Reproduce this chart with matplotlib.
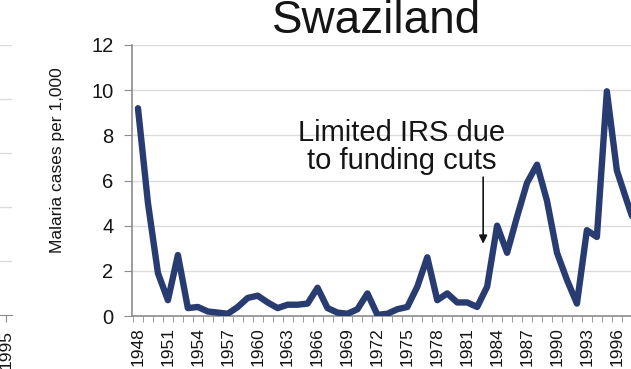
import matplotlib
matplotlib.use('Agg')
import matplotlib.pyplot as plt
import matplotlib.ticker as mticker

plt.rcParams['font.family'] = ['Liberation Sans', 'DejaVu Sans']

# Data
years = list(range(1948, 1999))
cases = [9.2, 5.0, 1.9, 0.7, 2.7, 0.35, 0.4, 0.2, 0.15, 0.1,
         0.4, 0.8, 0.9, 0.6, 0.35, 0.5, 0.5, 0.55, 1.25, 0.35,
         0.15, 0.1, 0.3, 1.0, 0.05, 0.1, 0.3, 0.4, 1.3, 2.6,
         0.7, 1.0, 0.6, 0.6, 0.4, 1.3, 4.0, 2.8, 4.4, 5.9,
         6.7, 5.1, 2.8, 1.6, 0.55, 3.8, 3.5, 9.95, 6.45, 5.1, 3.8]
label_years = list(range(1948, 1999, 3))
y_ticks = [0, 2, 4, 6, 8, 10, 12]

W, H = 631, 369
fig = plt.figure(figsize=(W / 100, H / 100), dpi=100)
fig.patch.set_facecolor('white')

GRID = '#dcdcdc'
AXIS = '#8c8c8c'
LINE = '#283c72'
TXT = '#151515'

# --- neighbouring chart, only its right edge is visible ---
axl = fig.add_axes([-120 / W, (H - 315) / H, 132 / W, 270 / H])
axl.set_xlim(0, 1)
axl.set_ylim(0, 5)
axl.set_yticks([1, 2, 3, 4, 5])
axl.yaxis.grid(True, color=GRID, lw=1)
axl.tick_params(axis='y', length=0, labelleft=False)
axl.set_xticks([126 / 132])
axl.set_xticklabels(['1995'], rotation=90, fontsize=12.5, color=TXT)
axl.tick_params(axis='x', length=5, color=AXIS, direction='out', pad=6)
for s in ['top', 'right', 'left']:
    axl.spines[s].set_visible(False)
axl.spines['bottom'].set_color(AXIS)

# --- main chart ---
ax = fig.add_axes([131.5 / W, (H - 316) / H, 499.5 / W, 271 / H])
ax.plot(years, cases, color=LINE, lw=4.6, solid_joinstyle='round',
        solid_capstyle='round', zorder=3)

ax.set_xlim(1947.35, 1997.42)
ax.set_ylim(0, 12)
ax.set_yticks(y_ticks)
ax.yaxis.grid(True, color=GRID, lw=1, zorder=0)
ax.set_axisbelow(True)

ax.set_xticks(label_years)
ax.set_xticklabels([str(y) for y in label_years], rotation=90,
                   fontsize=12.5, color=TXT)
ax.xaxis.set_minor_locator(mticker.FixedLocator([y - 0.5 for y in years]))
ax.tick_params(axis='x', which='major', length=0, pad=8)
ax.tick_params(axis='x', which='minor', length=4, color=AXIS, direction='out')
ax.tick_params(axis='y', length=6, color=AXIS, direction='out', pad=7,
               labelsize=14.5, labelcolor=TXT)

for s in ['top', 'right']:
    ax.spines[s].set_visible(False)
for s in ['left', 'bottom']:
    ax.spines[s].set_color(AXIS)
    ax.spines[s].set_linewidth(1.2)

ax.text(-0.149, 0.576, 'Malaria cases per 1,000', rotation=90,
        transform=ax.transAxes, ha='center', va='center', fontsize=12.5,
        color=TXT, family=['Liberation Sans Narrow', 'Liberation Sans'])

ax.text(1974.4, 7.5, 'Limited IRS due\nto funding cuts', ha='center',
        va='center', fontsize=21, linespacing=1.0, color=TXT)
ax.annotate('', xy=(1982.6, 3.2), xytext=(1982.6, 6.15),
            arrowprops=dict(arrowstyle='-|>', color=TXT, lw=1.2,
                            mutation_scale=12, shrinkA=0, shrinkB=0))

fig.text(377 / W, 1 - 33 / H, 'Swaziland', ha='center', va='baseline',
         fontsize=33, color=TXT)

fig.savefig('out.png', dpi=100, facecolor='white')
